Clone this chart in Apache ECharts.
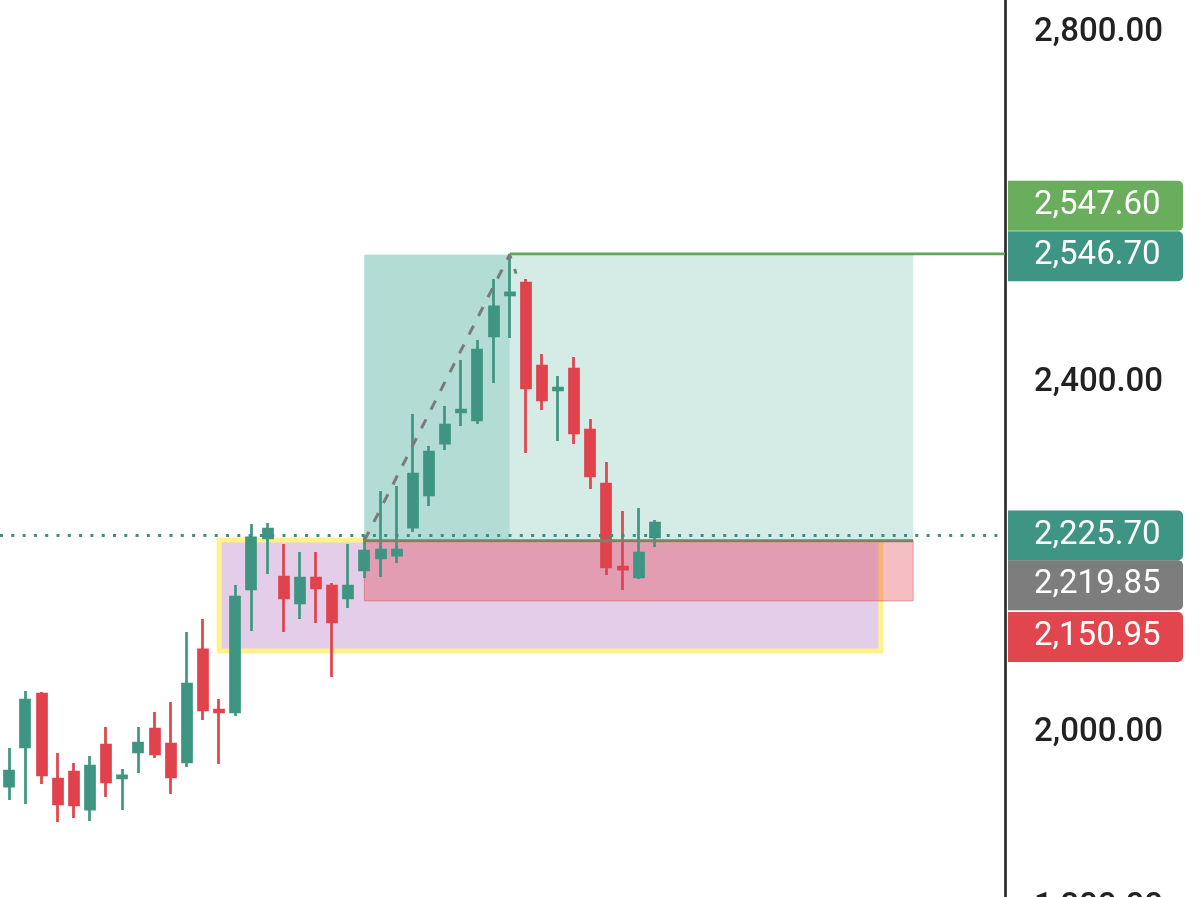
<!DOCTYPE html>
<html><head><meta charset="utf-8">
<script src="https://cdn.jsdelivr.net/npm/echarts@6/dist/echarts.min.js"></script>
<style>html,body{margin:0;padding:0;background:#fff}#c{width:1200px;height:897px}</style>
</head><body><div id="c"></div>
<script>
// ---- data ----
const open  = [1939.4,1984.0,2044.6,1947.4,1955.4,1913.1,1986.3,1948.6,1978.3,2004.6,1987.4,1966.9,2094.9,2026.3,2024.0,2164.6,2222.9,2178.3,2148.6,2177.1,2168.0,2154.3,2186.3,2200.0,2203.4,2235.4,2272.0,2331.4,2366.9,2357.7,2453.7,2500.6,2514.3,2419.4,2392.0,2416.0,2346.3,2284.6,2189.7,2178.3,2224.0];
const close = [1956.6,2037.7,1952.0,1918.9,1917.7,1962.3,1944.0,1950.9,1988.6,1976.0,1949.7,2056.0,2026.3,2024.0,2155.4,2222.9,2233.1,2154.3,2177.1,2165.7,2126.9,2168.0,2208.0,2209.1,2209.1,2296.0,2321.1,2352.0,2369.1,2437.7,2486.9,2502.9,2394.3,2380.6,2394.3,2342.9,2293.7,2189.7,2187.4,2205.7,2240.0];
const low   = [1923.4,1918.9,1941.7,1898.3,1902.9,1899.4,1926.9,1912.0,1954.3,1971.4,1930.3,1961.1,2014.9,1964.6,2019.4,2116.6,2181.7,2115.4,2130.3,2125.7,2064.0,2142.9,2177.1,2178.3,2194.3,2229.7,2259.4,2323.4,2350.9,2353.1,2400.0,2451.4,2320.0,2369.1,2333.7,2330.3,2278.9,2180.6,2163.4,2176.0,2212.6];
const high  = [1982.9,2048.0,2046.9,1977.1,1965.7,1973.7,2006.9,1958.9,2006.9,2024.0,2035.4,2115.4,2130.3,2038.9,2169.1,2238.9,2240.0,2216.0,2206.9,2206.9,2171.4,2216.0,2226.3,2276.6,2282.3,2364.6,2328.0,2373.7,2426.3,2449.1,2518.9,2547.6,2518.9,2433.1,2408.0,2429.7,2358.9,2309.7,2253.7,2257.1,2243.4];

const yTicks = [1800, 2000, 2400, 2800];

const currentPrice = 2225.70;
const entryPrice   = 2219.85;
const targetPrice  = 2546.70;
const stopPrice    = 2150.95;
const highPrice    = 2547.60;

const zoneTop = 2220.6, zoneBottom = 2093.7, zoneStart = 13, zoneEnd = 54;
const posStart = 22, posHit = 31, posEnd = 56;
const trendPath = [[22, 2219.85], [31, 2546.7], [31.4, 2525]];

// ---- styling ----
const X_MIN = -0.576, X_MAX = 61.69;
const UP = '#3e9581', DOWN = '#e0434c';
const FONT = 'Roboto';
const fmt = v => Number(v).toLocaleString('en-US', {minimumFractionDigits: 2, maximumFractionDigits: 2});

const candleData = open.map((o, i) => [i, o, close[i], low[i], high[i]]);

const boxLabel = (bg, dy) => ({
  show: true, position: 'end', distance: 3,
  formatter: p => fmt(p.value),
  color: '#fff', fontSize: 33, fontFamily: FONT, fontWeight: 400,
  backgroundColor: bg, borderRadius: [0, 5, 5, 0],
  padding: [9, 0, 9, 26], width: 149, lineHeight: 32, align: 'left',
  offset: [0, dy]
});
const hidden = {color: 'rgba(0,0,0,0)', width: 1};

const chart = echarts.init(document.getElementById('c'), null, {renderer: 'canvas'});
chart.setOption({
  animation: false,
  backgroundColor: '#fff',
  grid: {left: 0, right: 195, top: -142, bottom: -11, containLabel: false, outerBoundsMode: 'none'},
  xAxis: {type: 'value', min: X_MIN, max: X_MAX, show: false},
  yAxis: {
    type: 'value', position: 'right', min: 1800, max: 3000, interval: 200,
    axisLine: {show: true, onZero: false, lineStyle: {color: '#2b2b2b', width: 2.7}},
    axisTick: {show: false}, splitLine: {show: false},
    axisLabel: {customValues: yTicks, margin: 29, fontSize: 33, fontFamily: FONT, fontWeight: 500,
      color: '#222', formatter: v => fmt(v), padding: [0, 0, 4, 0]}
  },
  series: [
    {
      type: 'line', data: [], silent: true,
      markArea: {silent: true, z: 1,
        itemStyle: {color: '#e3cde9', borderColor: '#fff18c', borderWidth: 5},
        data: [[{coord: [zoneStart, zoneTop]}, {coord: [zoneEnd, zoneBottom]}]]}
    },
    {
      type: 'line', data: [], silent: true,
      markArea: {silent: true, z: 2,
        data: [
          [{coord: [posStart, entryPrice], itemStyle: {color: '#d4ebe6'}}, {coord: [posEnd, targetPrice]}],
          [{coord: [posStart, entryPrice], itemStyle: {color: 'rgba(226,70,80,0.35)', borderColor: 'rgba(226,70,80,0.45)', borderWidth: 1}}, {coord: [posEnd, stopPrice]}]
        ]}
    },
    {
      type: 'line', data: [], silent: true,
      markArea: {silent: true, z: 3,
        data: [[{coord: [posStart, entryPrice], itemStyle: {color: '#b3dcd4'}}, {coord: [posHit, targetPrice]}]]}
    },
    {
      type: 'candlestick', data: candleData, encode: {x: 0, y: [1, 2, 3, 4]},
      barWidth: 9.5, z: 4, silent: true,
      itemStyle: {color: UP, color0: DOWN, borderColor: UP, borderColor0: DOWN, borderWidth: 2.7}
    },
    {
      type: 'line', data: [[posStart, entryPrice], [posEnd, entryPrice]], z: 6, silent: true,
      symbol: 'none', lineStyle: {color: '#7e806a', width: 3}
    },
    {
      type: 'line', data: trendPath, z: 6, silent: true,
      symbol: 'none', lineStyle: {color: '#7b7b7b', width: 3, type: [10, 11]}
    },
    {
      type: 'line', data: [[posHit, highPrice], [X_MAX, highPrice]], z: 6, silent: true,
      symbol: 'none', lineStyle: {color: '#5fa75b', width: 2.6}
    },
    {
      type: 'line', data: [], silent: true,
      markLine: {
        silent: true, z: 7, symbol: ['none', 'none'], animation: false,
        data: [
          {yAxis: currentPrice, lineStyle: {color: '#3e8f7f', width: 3, type: [3, 8.3]}, label: boxLabel('#3e9583', 0)},
          {yAxis: entryPrice, lineStyle: hidden, label: boxLabel('#7d7d7d', 44.5)},
          {yAxis: stopPrice, lineStyle: hidden, label: boxLabel('#e1464e', 36)},
          {yAxis: targetPrice, lineStyle: hidden, label: boxLabel('#3e9583', 1.6)},
          {yAxis: highPrice, lineStyle: hidden, label: boxLabel('#6aad5c', -48)}
        ]
      }
    }
  ]
});
</script></body></html>
